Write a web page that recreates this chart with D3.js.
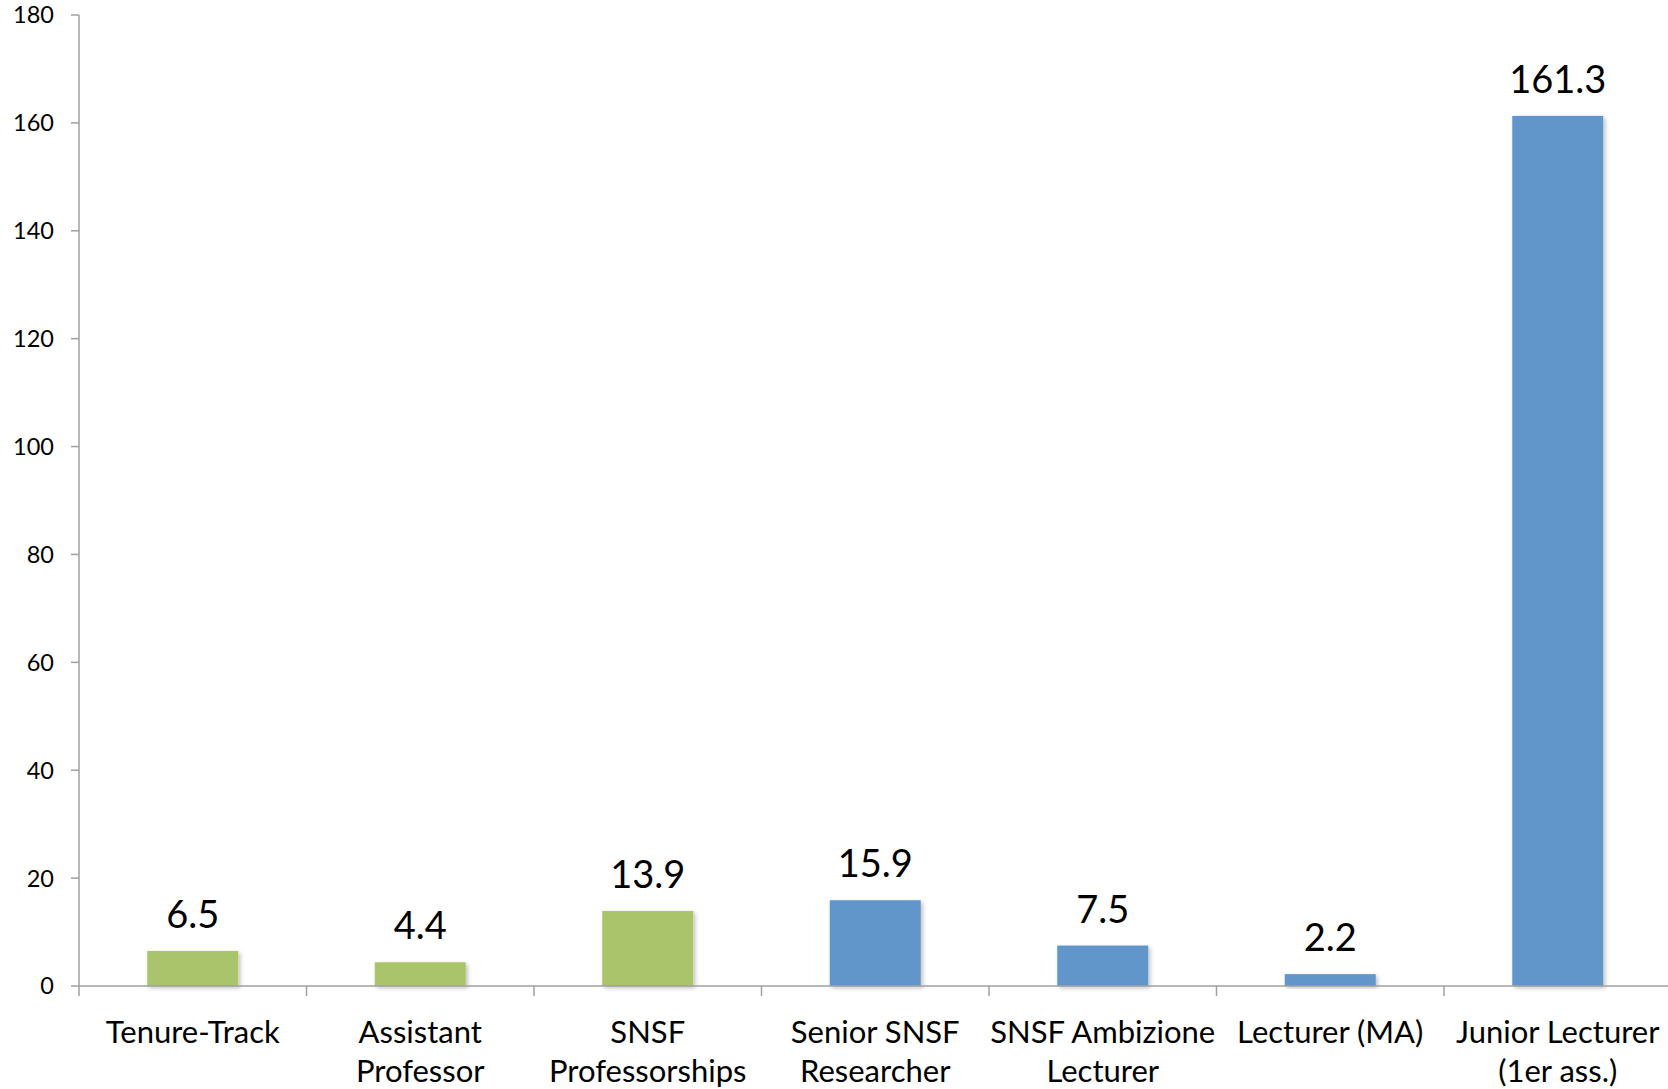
<!DOCTYPE html>
<html><head><meta charset="utf-8">
<script src="https://cdn.jsdelivr.net/npm/d3@7"></script>
<style>body{margin:0;background:#fff}svg{display:block}text{font-family:Lato,"Open Sans",sans-serif;fill:#000}</style>
</head><body>
<script>
const categories = ["Tenure-Track","Assistant\nProfessor","SNSF\nProfessorships","Senior SNSF\nResearcher","SNSF Ambizione\nLecturer","Lecturer (MA)","Junior Lecturer\n(1er ass.)"];
const values = [6.5, 4.4, 13.9, 15.9, 7.5, 2.2, 161.3];
const groups = ["green","green","green","blue","blue","blue","blue"];
const yTicks = [0,20,40,60,80,100,120,140,160,180];
const colors = {green:"#aac46c", blue:"#6096c9"};

const W = 1668, H = 1089;
const svg = d3.select("body").append("svg").attr("width",W).attr("height",H);
const defs = svg.append("defs");
const f = defs.append("filter").attr("id","sh").attr("x","-20%").attr("y","-20%").attr("width","140%").attr("height","140%");
f.append("feDropShadow").attr("dx",2).attr("dy",2).attr("stdDeviation",2).attr("flood-color","#000").attr("flood-opacity",0.25);

const x0 = 79, bw = 227.5;
const x = d3.scaleBand().domain(categories).range([x0, x0 + bw*categories.length]).padding(0);
const y = d3.scaleLinear().domain([0,180]).range([986,15]);
const barW = x.bandwidth()*0.4;
const axisColor = "#a0a0a0";

// y axis
svg.append("line").attr("x1",x0).attr("x2",x0).attr("y1",y(180)).attr("y2",y(0)+10).attr("stroke",axisColor).attr("stroke-width",1.5);
const yt = svg.append("g");
yt.selectAll("line").data(yTicks).join("line")
  .attr("x1",x0-8).attr("x2",x0).attr("y1",d=>y(d)).attr("y2",d=>y(d)).attr("stroke",axisColor).attr("stroke-width",1.5);
yt.selectAll("text").data(yTicks).join("text")
  .attr("x",54).attr("y",d=>y(d)).attr("dy","0.36em").attr("text-anchor","end")
  .style("font-size","23.5px").text(d=>d);

// bars
svg.append("g").selectAll("rect").data(values).join("rect")
  .attr("x",(d,i)=>x(categories[i])+(x.bandwidth()-barW)/2)
  .attr("width",barW)
  .attr("y",d=>y(d)).attr("height",d=>y(0)-y(d))
  .attr("fill",(d,i)=>colors[groups[i]]).attr("filter","url(#sh)");

// x axis
svg.append("line").attr("x1",x0).attr("x2",W).attr("y1",y(0)).attr("y2",y(0)).attr("stroke",axisColor).attr("stroke-width",1.5);
svg.append("g").selectAll("line").data(categories.slice(1)).join("line")
  .attr("x1",d=>x(d)).attr("x2",d=>x(d)).attr("y1",y(0)).attr("y2",y(0)+10).attr("stroke",axisColor).attr("stroke-width",1.5);

// value labels
svg.append("g").selectAll("text").data(values).join("text")
  .attr("x",(d,i)=>x(categories[i])+x.bandwidth()/2)
  .attr("y",d=>y(d)-23).attr("text-anchor","middle")
  .style("font-size","38px").text(d=>d.toFixed(1));

// category labels
const cl = svg.append("g").selectAll("text").data(categories).join("text")
  .attr("x",d=>x(d)+x.bandwidth()/2).attr("y",1043).attr("text-anchor","middle")
  .style("font-size","31px");
cl.each(function(d){
  const t = d3.select(this);
  d.split("\n").forEach((s,j)=>{
    t.append("tspan").attr("x",x(d)+x.bandwidth()/2).attr("y",1043+j*39).text(s);
  });
});
</script>
</body></html>
